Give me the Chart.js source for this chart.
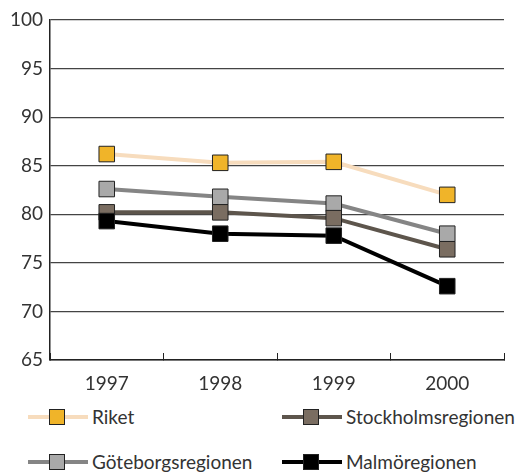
<!DOCTYPE html>
<html>
<head>
<meta charset="utf-8">
<script src="https://cdn.jsdelivr.net/npm/chart.js@4/dist/chart.umd.min.js"></script>
<style>
  html, body { margin: 0; padding: 0; background: #fff; }
  #wrap { position: relative; width: 524px; height: 472px; font-family: Lato, "Open Sans", sans-serif; }
  #box { position: absolute; left: 0; top: 0; width: 524px; height: 400px; }
  .leg { position: absolute; display: flex; align-items: center; font-size: 19px; color: #333; }
  .smp { position: relative; width: 60px; height: 16px; margin-right: 4px; }
  .smp .ln { position: absolute; left: 0; right: 0; top: 6px; height: 4px; }
  .smp .mk { position: absolute; left: 21px; top: 0; width: 14px; height: 14px; border: 1px solid #222; }
</style>
</head>
<body>
<div id="wrap">
  <div id="box"><canvas id="chart"></canvas></div>
  <div id="legend"></div>
</div>
<script>
// values
const years = ["1997", "1998", "1999", "2000"];
const riket = [86.2, 85.3, 85.4, 82.0];
const goteborg = [82.6, 81.8, 81.1, 78.0];
const stockholm = [80.2, 80.2, 79.6, 76.4];
const malmo = [79.3, 78.0, 77.8, 72.6];
const yTicks = [65, 70, 75, 80, 85, 90, 95, 100];

const series = [
  { label: "Riket", data: riket, line: "#f7dcbd", fill: "#f0b429" },
  { label: "Stockholmsregionen", data: stockholm, line: "#5d554c", fill: "#7a6d61" },
  { label: "Göteborgsregionen", data: goteborg, line: "#858585", fill: "#a9a9a9" },
  { label: "Malmöregionen", data: malmo, line: "#000000", fill: "#000000" },
];
// drawing order: Malmö ends up on top
const drawOrder = ["Riket", "Göteborgsregionen", "Stockholmsregionen", "Malmöregionen"];

Chart.defaults.font.family = "Lato, 'Open Sans', sans-serif";
Chart.defaults.color = "#333";

new Chart(document.getElementById("chart"), {
  type: "line",
  data: {
    labels: years,
    datasets: drawOrder.map((name, i) => {
      const s = series.find(d => d.label === name);
      return {
        label: s.label,
        data: s.data,
        borderColor: s.line,
        borderWidth: 4,
        pointStyle: "rect",
        pointRadius: 11,
        pointHoverRadius: 11,
        pointBackgroundColor: s.fill,
        pointBorderColor: "#222",
        pointBorderWidth: 1,
        order: drawOrder.length - i,
      };
    }),
  },
  options: {
    responsive: true,
    maintainAspectRatio: false,
    animation: false,
    layout: { padding: { top: 20, right: 20, left: 0, bottom: 0 } },
    plugins: { legend: { display: false }, tooltip: { enabled: false } },
    scales: {
      x: {
        offset: true,
        grid: {
          offset: true,
          drawOnChartArea: false,
          drawTicks: true,
          tickLength: -7,
          color: "#222",
          lineWidth: 1,
        },
        border: { color: "#222", width: 1.5 },
        ticks: { font: { size: 19 }, padding: 19, color: "#333" },
        afterFit: (s) => { s.height = 40; },
      },
      y: {
        min: 65,
        max: 100,
        afterBuildTicks: (s) => { s.ticks = yTicks.map(v => ({ value: v })); },
        grid: { color: "#444", lineWidth: 1.2, drawTicks: false },
        border: { color: "#222", width: 1.5 },
        ticks: { font: { size: 19 }, padding: 7, color: "#333" },
        afterFit: (s) => { s.width = 50; },
      },
    },
  },
});

// legend, two columns like the original
const legendPos = [[28, 405], [282, 405], [28, 450], [282, 450]];
const legendOrder = ["Riket", "Stockholmsregionen", "Göteborgsregionen", "Malmöregionen"];
const legend = document.getElementById("legend");
legendOrder.forEach((name, i) => {
  const s = series.find(d => d.label === name);
  const el = document.createElement("div");
  el.className = "leg";
  el.style.left = legendPos[i][0] + "px";
  el.style.top = legendPos[i][1] + "px";
  el.innerHTML = `<span class="smp"><span class="ln" style="background:${s.line}"></span>` +
    `<span class="mk" style="background:${s.fill}"></span></span><span>${s.label}</span>`;
  legend.appendChild(el);
});
</script>
</body>
</html>
